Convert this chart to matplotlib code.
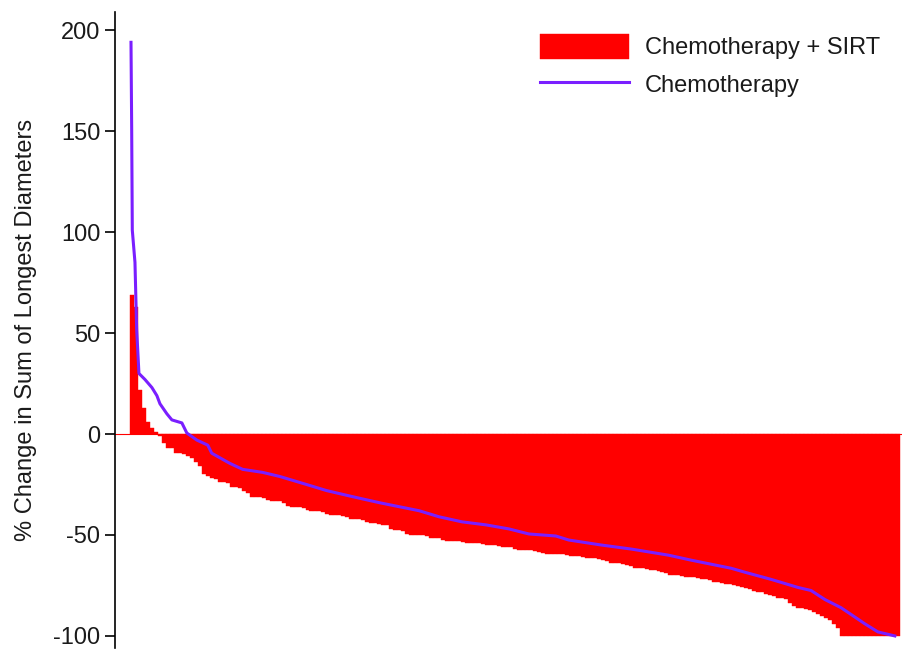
import numpy as np
import matplotlib
matplotlib.use("Agg")
import matplotlib.pyplot as plt

plt.rcParams['font.family'] = ['Liberation Sans', 'DejaVu Sans']
plt.rcParams['axes.unicode_minus'] = False

# Chemotherapy + SIRT: % change per patient, sorted (one bar per patient)
sirt_change = [
    69, 63, 22, 13, 6, 3, 1, -1, -4.5, -7,
    -7, -9.5, -9.5, -10, -11, -12, -14, -16, -20, -21,
    -22, -22.5, -24, -24, -24.5, -26, -26, -26.5, -28, -29,
    -31, -31, -31, -31.5, -32.5, -33, -33, -33, -34, -35.5,
    -36, -36, -36, -36.5, -37.5, -38, -38, -38, -38.5, -39.5,
    -40, -40, -40, -40.5, -41, -42, -42, -42, -42.5, -43.5,
    -44, -44, -44.5, -45, -45, -47, -47.5, -47.5, -48, -49.5,
    -50, -50, -50, -50, -50.5, -51.5, -51.5, -51.5, -52.5, -53,
    -53, -53, -53, -53.5, -54, -54, -54, -54, -54.5, -55,
    -55, -55, -55.5, -56, -56, -56, -57, -57.5, -57.5, -57.5,
    -57.5, -58, -58.5, -59, -59.5, -59.5, -59.5, -59.5, -59.5, -60,
    -60.5, -60.5, -60.5, -61, -61.5, -61.5, -61.5, -62, -62.5, -63,
    -64, -64, -64, -64.5, -65, -65.5, -66.5, -66.5, -66.5, -67,
    -67.5, -67.5, -68, -68.5, -69, -70, -70, -70, -70.5, -71,
    -71, -71, -71.5, -72, -72, -72.5, -73.5, -73.5, -74, -74.5,
    -74.5, -75, -75.5, -76, -76.5, -77, -77.5, -78, -78, -79,
    -79.5, -80, -81, -81, -81.5, -83.5, -85, -86, -86, -86.5,
    -87, -88, -89, -90, -91, -92, -94, -96, -100, -100,
    -100, -100, -100, -100, -100, -100, -100, -100, -100, -100,
    -100, -100, -100,
]

# Chemotherapy arm: patient rank (percent of arm) and % change
chemo_pct = [0, 0.09, 0.17, 0.52, 0.74, 1.04, 1.83, 2.74, 3.39, 3.79,
             4.70, 5.35, 6.66, 7.31, 8.62, 10.05, 10.57, 12.92, 14.62, 17.23,
             19.45, 22.98, 25.59, 28.98, 32.51, 33.81, 37.73, 40.34, 43.34, 46.48,
             49.48, 52.09, 55.61, 57.31, 61.62, 65.54, 70.37, 73.37, 78.59, 80.42,
             83.81, 87.34, 89.03, 90.86, 92.95, 96.08, 97.78, 100]
chemo_change = [194, 151, 101, 85, 52, 30, 27, 23, 19, 15,
                10, 7, 5.5, 0.5, -3, -5.5, -9.5, -14.5, -17.5, -19,
                -21, -25, -28, -31, -34, -35, -38, -41, -43.5, -45,
                -47, -49.5, -50.5, -52.5, -55, -57, -60, -62.5, -66.5, -68.5,
                -72, -76, -77.5, -82, -86, -94, -98, -100]

yticks = [-100, -50, 0, 50, 100, 150, 200]

fig = plt.figure(figsize=(9.03, 6.5), dpi=100)
ax = fig.add_axes([0.1274, 0.003, 0.8726, 0.9785])

n = len(sirt_change)
xs = np.arange(n)
bars = ax.bar(xs, sirt_change, width=1.0, color='#ff0000', edgecolor='#ff0000',
              linewidth=0.3, label='Chemotherapy + SIRT', zorder=2)
ax.axhline(0, color='#ff0000', lw=0.8, zorder=1)

cx = -0.25 + np.array(chemo_pct) / 100 * (n - 1.5)
line, = ax.plot(cx, chemo_change, color='#7a1fff', lw=2.2, label='Chemotherapy', zorder=3)

ax.set_xlim(-4.25, n + 0.3)
ax.set_ylim(-106, 209)
ax.set_yticks(yticks)
ax.set_xticks([])
for s in ['top', 'right', 'bottom']:
    ax.spines[s].set_visible(False)
ax.spines['left'].set_linewidth(1.2)
ax.tick_params(axis='y', length=7, width=1.2, pad=3.5, labelsize=17,
               labelcolor='#1a1a1a')
ax.set_ylabel('% Change in Sum of Longest Diameters', fontsize=17,
              color='#1a1a1a', labelpad=12)

leg = ax.legend([bars, line], ['Chemotherapy + SIRT', 'Chemotherapy'],
                loc='upper left', bbox_to_anchor=(0.598, 0.948),
                bbox_transform=fig.transFigure, frameon=False, fontsize=17,
                handlelength=3.75, handleheight=1.25, handletextpad=0.7,
                labelspacing=0.52, borderpad=0, borderaxespad=0)
for t in leg.get_texts():
    t.set_color('#1a1a1a')

fig.savefig('out.png', dpi=100)
